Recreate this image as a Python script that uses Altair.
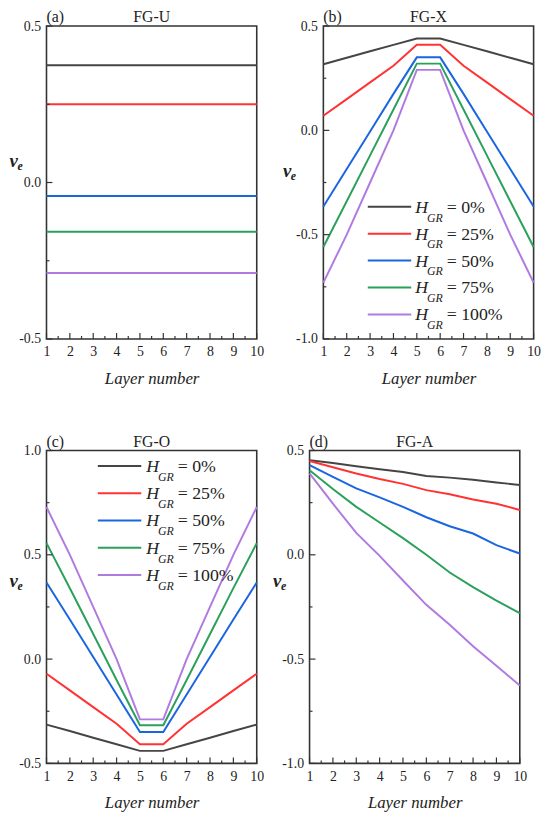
import altair as alt
import pandas as pd

FONT = "Liberation Serif"
W, H = 213, 317

layers = [1, 2, 3, 4, 5, 6, 7, 8, 9, 10]
series = ["0%", "25%", "50%", "75%", "100%"]
colors = ["#454545", "#ff3333", "#1a66e0", "#2ba05a", "#b07ae0"]

# (a) FG-U
fgu_0 = [0.375, 0.375, 0.375, 0.375, 0.375, 0.375, 0.375, 0.375, 0.375, 0.375]
fgu_25 = [0.25, 0.25, 0.25, 0.25, 0.25, 0.25, 0.25, 0.25, 0.25, 0.25]
fgu_50 = [-0.043, -0.043, -0.043, -0.043, -0.043, -0.043, -0.043, -0.043, -0.043, -0.043]
fgu_75 = [-0.157, -0.157, -0.157, -0.157, -0.157, -0.157, -0.157, -0.157, -0.157, -0.157]
fgu_100 = [-0.289, -0.289, -0.289, -0.289, -0.289, -0.289, -0.289, -0.289, -0.289, -0.289]

# (b) FG-X
fgx_0 = [0.317, 0.348, 0.379, 0.41, 0.44, 0.44, 0.41, 0.379, 0.348, 0.317]
fgx_25 = [0.07, 0.15, 0.23, 0.31, 0.41, 0.41, 0.31, 0.23, 0.15, 0.07]
fgx_50 = [-0.365, -0.185, -0.005, 0.175, 0.35, 0.35, 0.175, -0.005, -0.185, -0.365]
fgx_75 = [-0.559, -0.34, -0.12, 0.1, 0.32, 0.32, 0.1, -0.12, -0.34, -0.559]
fgx_100 = [-0.73, -0.5, -0.25, 0.0, 0.29, 0.29, 0.0, -0.25, -0.5, -0.73]

# (c) FG-O
fgo_0 = [-0.314, -0.345, -0.377, -0.408, -0.44, -0.44, -0.408, -0.377, -0.345, -0.314]
fgo_25 = [-0.07, -0.15, -0.23, -0.31, -0.408, -0.408, -0.31, -0.23, -0.15, -0.07]
fgo_50 = [0.367, 0.19, 0.01, -0.17, -0.349, -0.349, -0.17, 0.01, 0.19, 0.367]
fgo_75 = [0.556, 0.34, 0.12, -0.1, -0.317, -0.317, -0.1, 0.12, 0.34, 0.556]
fgo_100 = [0.729, 0.5, 0.25, 0.0, -0.289, -0.289, 0.0, 0.25, 0.5, 0.729]

# (d) FG-A
fga_0 = [0.453, 0.44, 0.425, 0.41, 0.397, 0.378, 0.37, 0.36, 0.347, 0.335]
fga_25 = [0.45, 0.42, 0.39, 0.363, 0.34, 0.31, 0.29, 0.265, 0.245, 0.215]
fga_50 = [0.43, 0.373, 0.318, 0.275, 0.23, 0.18, 0.137, 0.102, 0.046, 0.006]
fga_75 = [0.405, 0.315, 0.23, 0.155, 0.08, 0.0, -0.085, -0.155, -0.22, -0.28]
fga_100 = [0.39, 0.245, 0.105, -0.005, -0.123, -0.24, -0.335, -0.438, -0.532, -0.626]

x_major = layers
x_minor = [1.5, 2.5, 3.5, 4.5, 5.5, 6.5, 7.5, 8.5, 9.5]

color_scale = alt.Scale(domain=series, range=colors)


def text_layer(txt, x, y, size, align="left", style="normal", weight="normal",
               color="#222", baseline="alphabetic"):
    return alt.Chart(pd.DataFrame({"t": [txt]})).mark_text(
        align=align, baseline=baseline, font=FONT, fontSize=size,
        fontStyle=style, fontWeight=weight, color=color
    ).encode(x=alt.value(x), y=alt.value(y), text="t:N")


def panel(tag, name, vals, ydom, ymajor, yminor, nu_xy, legend=None):
    rows = []
    for s, v in zip(series, vals):
        for l, val in zip(layers, v):
            rows.append({"layer": l, "value": val, "series": s})
    df = pd.DataFrame(rows)
    xs = alt.Scale(domain=[1, 10], nice=False, zero=False)
    ys = alt.Scale(domain=ydom, nice=False, zero=False)
    x_axis = alt.Axis(
        values=x_major, ticks=False, domain=False, grid=False,
        labelOverlap=False, labelFlush=False, labelBound=False,
        labelFont=FONT, labelFontSize=14, labelColor="#222", labelPadding=6,
        title="Layer number", titleFont=FONT, titleFontStyle="italic",
        titleFontWeight="normal", titleFontSize=17, titleColor="#222",
        titlePadding=12)
    y_axis = alt.Axis(
        values=ymajor, ticks=False, domain=False, grid=False,
        labelOverlap=False, labelFlush=False, labelBound=False,
        labelExpr="replace(format(datum.value, '.1f'), '\u2212', '-')",
        labelFont=FONT, labelFontSize=14, labelColor="#222", labelPadding=6,
        title=None)

    lines = alt.Chart(df).mark_line(strokeWidth=2).encode(
        x=alt.X("layer:Q", scale=xs, axis=x_axis, title="Layer number"),
        y=alt.Y("value:Q", scale=ys, axis=y_axis, title=None),
        color=alt.Color("series:N", scale=color_scale, legend=None),
        order=alt.Order("layer:Q"),
    )

    tick_col = "#333"
    xt_major = alt.Chart(pd.DataFrame({"layer": x_major})).mark_rule(color=tick_col, strokeWidth=1.2).encode(
        x=alt.X("layer:Q", scale=xs, axis=x_axis, title="Layer number"), y=alt.value(H), y2=alt.value(H - 6))
    xt_minor = alt.Chart(pd.DataFrame({"layer": x_minor})).mark_rule(color=tick_col, strokeWidth=1.2).encode(
        x=alt.X("layer:Q", scale=xs, axis=x_axis, title="Layer number"), y=alt.value(H), y2=alt.value(H - 3))
    yt_major = alt.Chart(pd.DataFrame({"value": ymajor})).mark_rule(color=tick_col, strokeWidth=1.2).encode(
        y=alt.Y("value:Q", scale=ys, axis=y_axis, title=None), x=alt.value(0), x2=alt.value(6))
    yt_minor = alt.Chart(pd.DataFrame({"value": yminor})).mark_rule(color=tick_col, strokeWidth=1.2).encode(
        y=alt.Y("value:Q", scale=ys, axis=y_axis, title=None), x=alt.value(0), x2=alt.value(3))

    parts = [lines, xt_major, xt_minor, yt_major, yt_minor,
             text_layer(tag, 0, -4, 16),
             text_layer(name, W / 2, -4, 16, align="center"),
             text_layer("\u03bd", nu_xy[0], nu_xy[1], 19, style="italic", weight="bold"),
             text_layer("e", nu_xy[0] + 8, nu_xy[1] + 3, 12, style="italic", weight="bold")]

    if legend is not None:
        lx0, lx1, tx, y0, pitch = legend
        for i, s in enumerate(series):
            yy = y0 + i * pitch
            parts.append(alt.Chart(pd.DataFrame({"series": [s]})).mark_rule(strokeWidth=2).encode(
                x=alt.value(lx0), x2=alt.value(lx1), y=alt.value(yy),
                color=alt.Color("series:N", scale=color_scale, legend=None)))
            parts.append(text_layer("H", tx, yy + 6, 18, style="italic"))
            parts.append(text_layer("GR", tx + 12, yy + 15, 12, style="italic"))
            parts.append(text_layer("= " + s, tx + 32, yy + 6, 18))

    return alt.layer(*parts).properties(
        width=W, height=H,
        view=alt.ViewBackground(stroke="#333333", strokeWidth=1.6, fill="white"))


pa = panel("(a)", "FG-U", [fgu_0, fgu_25, fgu_50, fgu_75, fgu_100],
           [-0.5, 0.5], [-0.5, 0.0, 0.5], [-0.25, 0.25], (-37.5, 143))
pb = panel("(b)", "FG-X", [fgx_0, fgx_25, fgx_50, fgx_75, fgx_100],
           [-1.0, 0.5], [-1.0, -0.5, 0.0, 0.5], [-0.75, -0.25, 0.25], (-41, 153),
           legend=(45, 89, 93, 183, 27.3))
pc = panel("(c)", "FG-O", [fgo_0, fgo_25, fgo_50, fgo_75, fgo_100],
           [-0.5, 1.0], [-0.5, 0.0, 0.5, 1.0], [-0.25, 0.25, 0.75], (-37.5, 138),
           legend=(52, 96, 101, 15.7, 27.6))
pd_ = panel("(d)", "FG-A", [fga_0, fga_25, fga_50, fga_75, fga_100],
            [-1.0, 0.5], [-1.0, -0.5, 0.0, 0.5], [-0.75, -0.25, 0.25], (-37, 138))

top = alt.hconcat(pa, pb, spacing=67.5, bounds="flush")
bottom = alt.hconcat(pc, pd_, spacing=53.5, bounds="flush")

chart = alt.vconcat(top, bottom, spacing=46).properties(
    padding={"top": -5, "left": 0, "right": 0, "bottom": 0}, background="white"
).configure_view(stroke="#333333", strokeWidth=1.6)

chart.save("out.html", embed_options={"renderer": "svg", "actions": False})
